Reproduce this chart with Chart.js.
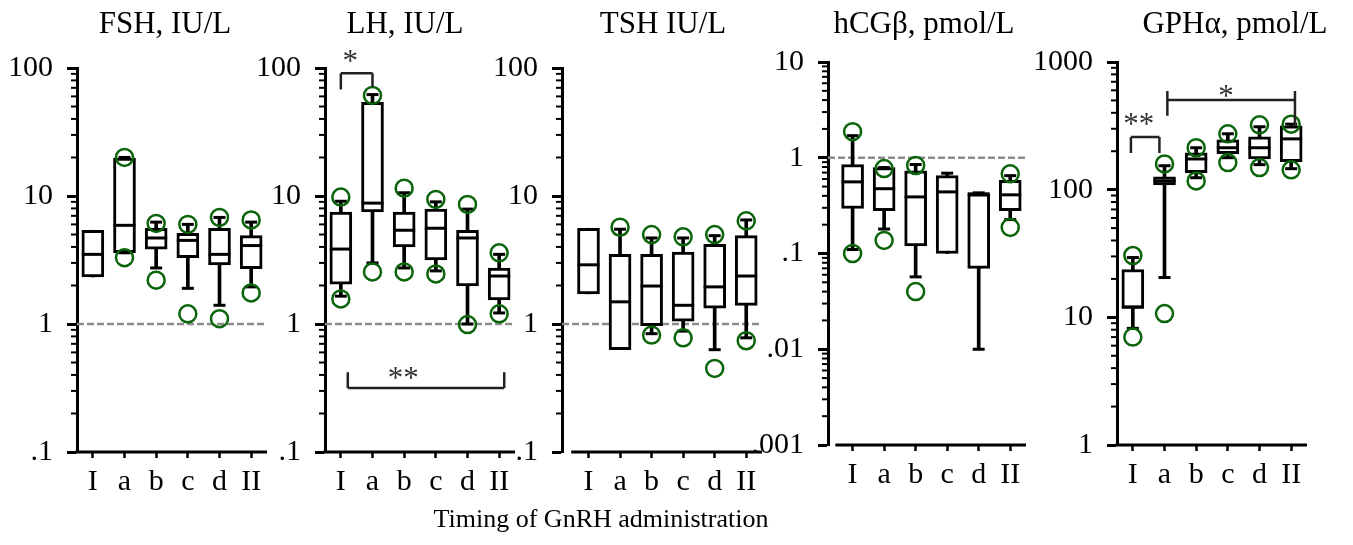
<!DOCTYPE html>
<html>
<head>
<meta charset="utf-8">
<script src="https://cdn.jsdelivr.net/npm/chart.js@4/dist/chart.umd.min.js"></script>
<style>
  body { margin: 0; background: #fff; width: 1353px; height: 545px; position: relative; overflow: hidden; font-family: "Liberation Serif", "Times New Roman", serif; }
  .panel { position: absolute; top: 0; }
  .ttl { position: absolute; white-space: nowrap; transform: translateX(-50%); color: #000; }
</style>
</head>
<body>
<script>
const categories = ['I', 'a', 'b', 'c', 'd', 'II'];
const decadeValues = [0.001, 0.01, 0.1, 1, 10, 100, 1000];
const decadeLabels = ['.001', '.01', '.1', '1', '10', '100', '1000'];
const titles = ['FSH, IU/L', 'LH, IU/L', 'TSH IU/L', 'hCGβ, pmol/L', 'GPHα, pmol/L'];
const xTitle = 'Timing of GnRH administration';
const yRanges = [[0.1, 100], [0.1, 100], [0.1, 100], [0.001, 10], [1, 1000]];
const refLines = [1, 1, 1, 1, null];

// FSH
const fshQ1 = [2.33, 3.6, 3.85, 3.3, 2.9, 2.7];
const fshMed = [3.5, 5.9, 4.7, 4.5, 3.5, 4.1];
const fshQ3 = [5.4, 19.8, 5.6, 5.1, 5.6, 4.9];
const fshLo = [null, 3.6, 2.74, 1.9, 1.4, 1.95];
const fshHi = [null, 20, 6.25, 6.0, 6.8, 6.25];
const fshOutHi = [null, 20, 6.1, 6.0, 6.8, 6.5];
const fshOutLo = [null, 3.3, 2.2, 1.2, 1.1, 1.75];

// LH
const lhQ1 = [2.05, 7.5, 4.0, 3.16, 1.98, 1.54];
const lhMed = [3.85, 8.8, 5.4, 5.6, 4.7, 2.37];
const lhQ3 = [7.5, 54, 7.5, 7.9, 5.4, 2.74];
const lhLo = [1.65, 3.0, 2.74, 2.6, 1.0, 1.22];
const lhHi = [9.1, 62, 10.6, 9.0, 7.9, 3.5];
const lhOutHi = [9.8, 61, 11.5, 9.4, 8.6, 3.6];
const lhOutLo = [1.57, 2.55, 2.55, 2.46, 0.99, 1.2];

// TSH
const tshQ1 = [1.72, 0.63, 0.97, 1.05, 1.33, 1.4];
const tshMed = [2.9, 1.49, 1.98, 1.4, 1.95, 2.37];
const tshQ3 = [5.6, 3.5, 3.5, 3.65, 4.2, 4.9];
const tshLo = [null, null, 0.84, 0.88, 0.63, 0.78];
const tshHi = [null, 5.5, 4.7, 4.7, 4.9, 6.5];
const tshOutHi = [null, 5.7, 5.0, 4.8, 5.0, 6.4];
const tshOutLo = [null, null, 0.82, 0.78, 0.45, 0.74];

// hCG beta
const hcgQ1 = [0.295, 0.28, 0.12, 0.1, 0.07, 0.28];
const hcgMed = [0.56, 0.475, 0.39, 0.44, 0.42, 0.41];
const hcgQ3 = [0.85, 0.79, 0.73, 0.65, 0.42, 0.58];
const hcgLo = [0.11, 0.18, 0.057, null, 0.01, 0.226];
const hcgHi = [1.7, 0.79, 0.85, 0.69, 0.43, 0.65];
const hcgOutHi = [1.87, 0.77, 0.83, null, null, 0.68];
const hcgOutLo = [0.1, 0.137, 0.04, null, null, 0.187];

// GPH alpha
const gphQ1 = [11.8, 109, 136, 191, 174, 166];
const gphMed = [12, 117, 174, 213, 213, 250];
const gphQ3 = [23.7, 126, 194, 246, 259, 316];
const gphLo = [8.2, 20.5, 124, 178, 157, 146];
const gphHi = [29.4, 154, 213, 274, 311, 326];
const gphOutHi = [30.5, 159, 213, 274, 322, 326];
const gphOutLo = [7.0, 10.7, 117, 163, 149, 143];

// significance brackets, in category units and axis values
const lhBrackets = [
  { x1: 0, x2: 1, y: 91, leftLeg: [91, 68], rightLeg: [91, 71], text: '*', tx: 0.3, ty: 124 },
  { x1: 0.22, x2: 5.16, y: 0.316, leftLeg: [0.316, 0.42], rightLeg: [0.316, 0.42], text: '**', tx: 1.97, ty: 0.414 }
];
const gphBrackets = [
  { x1: -0.06, x2: 0.84, y: 259, leftLeg: [259, 194], rightLeg: [259, 194], text: '**', tx: 0.19, ty: 356 },
  { x1: 1.09, x2: 5.12, y: 505, leftLeg: [592, 379], rightLeg: [592, 316], text: '*', tx: 2.94, ty: 592 }
];

const panels = [
  { q1: fshQ1, med: fshMed, q3: fshQ3, lo: fshLo, hi: fshHi, outHi: fshOutHi, outLo: fshOutLo, brackets: [] },
  { q1: lhQ1, med: lhMed, q3: lhQ3, lo: lhLo, hi: lhHi, outHi: lhOutHi, outLo: lhOutLo, brackets: lhBrackets },
  { q1: tshQ1, med: tshMed, q3: tshQ3, lo: tshLo, hi: tshHi, outHi: tshOutHi, outLo: tshOutLo, brackets: [] },
  { q1: hcgQ1, med: hcgMed, q3: hcgQ3, lo: hcgLo, hi: hcgHi, outHi: hcgOutHi, outLo: hcgOutLo, brackets: [] },
  { q1: gphQ1, med: gphMed, q3: gphQ3, lo: gphLo, hi: gphHi, outHi: gphOutHi, outLo: gphOutLo, brackets: gphBrackets }
];

// page layout (pixels)
const layout = [
  { axisX: 77, xMin: -0.5, top: 68, bottom: 452, titleX: 165 },
  { axisX: 325, xMin: -0.5, top: 68, bottom: 452, titleX: 405 },
  { axisX: 562, xMin: -0.84, top: 68, bottom: 452, titleX: 663 },
  { axisX: 828, xMin: -0.78, top: 62, bottom: 445, titleX: 924 },
  { axisX: 1117, xMin: -0.5, top: 62, bottom: 445, titleX: 1235 }
];
const step = 32, yW = 95, padR = 12;
const green = '#0a640a';

const isDecade = v => decadeValues.some(d => Math.abs(d - v) / d < 1e-6);
const decadeLabel = v => {
  const i = decadeValues.findIndex(d => Math.abs(d - v) / d < 1e-6);
  return i < 0 ? '' : decadeLabels[i];
};
const points = (arr) => arr.map((v, i) => v == null ? null : { x: i, y: v }).filter(p => p);

function extras(idx) {
  const p = panels[idx];
  return {
    id: 'extras' + idx,
    beforeDatasetsDraw(chart) {
      const ref = refLines[idx];
      if (ref == null) return;
      const { ctx, chartArea, scales: { y } } = chart;
      const py = y.getPixelForValue(ref);
      ctx.save();
      ctx.strokeStyle = '#8c8c8c';
      ctx.lineWidth = 2.5;
      ctx.setLineDash([7, 3]);
      ctx.beginPath();
      ctx.moveTo(chartArea.left, py);
      ctx.lineTo(chartArea.right, py);
      ctx.stroke();
      ctx.restore();
    },
    afterDraw(chart) {
      const { ctx, chartArea, scales: { x, y } } = chart;
      ctx.save();
      // x axis line
      ctx.strokeStyle = '#000';
      ctx.lineWidth = 3;
      ctx.beginPath();
      ctx.moveTo(x.getPixelForValue(-0.5) - 1.5, chartArea.bottom);
      ctx.lineTo(x.getPixelForValue(5.5), chartArea.bottom);
      ctx.stroke();
      // minor y ticks
      ctx.lineWidth = 2;
      y.ticks.forEach(t => {
        if (isDecade(t.value)) return;
        const py = y.getPixelForValue(t.value);
        ctx.beginPath();
        ctx.moveTo(chartArea.left - 6, py);
        ctx.lineTo(chartArea.left, py);
        ctx.stroke();
      });
      // brackets
      ctx.strokeStyle = '#222';
      ctx.lineWidth = 2.5;
      ctx.fillStyle = '#333';
      ctx.font = '31px "Liberation Serif"';
      ctx.textAlign = 'center';
      ctx.textBaseline = 'alphabetic';
      p.brackets.forEach(b => {
        const x1 = x.getPixelForValue(b.x1), x2 = x.getPixelForValue(b.x2);
        const py = y.getPixelForValue(b.y);
        ctx.beginPath();
        ctx.moveTo(x1, py); ctx.lineTo(x2, py);
        ctx.moveTo(x1, y.getPixelForValue(b.leftLeg[0])); ctx.lineTo(x1, y.getPixelForValue(b.leftLeg[1]));
        ctx.moveTo(x2, y.getPixelForValue(b.rightLeg[0])); ctx.lineTo(x2, y.getPixelForValue(b.rightLeg[1]));
        ctx.stroke();
        ctx.fillText(b.text, x.getPixelForValue(b.tx), y.getPixelForValue(b.ty) + 15);
      });
      ctx.restore();
    }
  };
}

layout.forEach((L, idx) => {
  const p = panels[idx];
  const [yMin, yMax] = yRanges[idx];
  const plotW = (5.5 - L.xMin) * step;
  const wrap = document.createElement('div');
  wrap.className = 'panel';
  wrap.style.left = (L.axisX - yW) + 'px';
  const cv = document.createElement('canvas');
  cv.width = yW + plotW + padR;
  cv.height = 545;
  wrap.appendChild(cv);
  document.body.appendChild(wrap);

  const ttl = document.createElement('div');
  ttl.className = 'ttl';
  ttl.textContent = titles[idx];
  ttl.style.cssText = `left:${L.titleX}px;top:7px;font-size:31px;line-height:31px;`;
  document.body.appendChild(ttl);

  const boxes = p.q1.map((v, i) => ({ x: i, y: [v, p.q3[i]] }));
  const whiskers = p.q1.map((v, i) => ({ x: i, y: [p.lo[i] ?? v, p.hi[i] ?? p.q3[i]] }));
  const caps = points(p.lo).concat(points(p.hi));
  const outliers = points(p.outLo).concat(points(p.outHi));

  new Chart(cv, {
    type: 'bar',
    data: {
      datasets: [
        { type: 'scatter', data: outliers, pointStyle: 'circle', pointRadius: 8.5, pointBorderWidth: 2.5,
          pointBorderColor: green, pointBackgroundColor: 'rgba(0,0,0,0)', clip: false, order: 0 },
        { type: 'scatter', data: points(p.med), pointStyle: 'line', pointRadius: 11, pointBorderWidth: 3,
          pointBorderColor: '#000', clip: false, order: 1 },
        { type: 'scatter', data: caps, pointStyle: 'line', pointRadius: 6, pointBorderWidth: 3,
          pointBorderColor: '#000', clip: false, order: 1 },
        { type: 'bar', data: boxes, backgroundColor: '#fff', borderColor: '#000', borderWidth: 3,
          borderSkipped: false, barThickness: 22, grouped: false, order: 2 },
        { type: 'bar', data: whiskers, backgroundColor: '#000', borderWidth: 0,
          barThickness: 3, grouped: false, order: 3 }
      ]
    },
    options: {
      responsive: false,
      animation: false,
      events: [],
      layout: { padding: { top: L.top, left: 0, right: padR, bottom: 0 } },
      plugins: { legend: { display: false }, tooltip: { enabled: false }, title: { display: false } },
      scales: {
        x: {
          type: 'linear',
          min: L.xMin,
          max: 5.5,
          offset: false,
          afterBuildTicks: s => { s.ticks = categories.map((c, i) => ({ value: i })); },
          afterFit: s => { s.height = 545 - L.bottom; s.paddingLeft = 0; s.paddingRight = 0; },
          grid: { offset: false, drawOnChartArea: false, tickLength: 6, tickWidth: 2.5, tickColor: '#000' },
          border: { display: false },
          ticks: {
            autoSkip: false, maxRotation: 0, padding: 6, color: '#000',
            font: { family: 'Liberation Serif', size: 30 },
            callback: v => categories[v] ?? ''
          }
        },
        y: {
          type: 'logarithmic',
          min: yMin,
          max: yMax,
          afterBuildTicks: s => {
            const t = [];
            const e0 = Math.round(Math.log10(yMin)), e1 = Math.round(Math.log10(yMax));
            for (let e = e0; e < e1; e++) {
              for (let k = 1; k < 10; k++) t.push({ value: Number((k * Math.pow(10, e)).toPrecision(6)) });
            }
            t.push({ value: yMax });
            s.ticks = t;
          },
          afterFit: s => { s.width = yW; s.paddingTop = 0; s.paddingBottom = 0; },
          grid: {
            drawOnChartArea: false, tickLength: 10, tickWidth: 3,
            tickColor: c => (c.tick && isDecade(c.tick.value)) ? '#000' : 'rgba(0,0,0,0)'
          },
          border: { display: true, color: '#000', width: 3 },
          ticks: {
            autoSkip: false, padding: 14, color: '#000',
            font: { family: 'Liberation Serif', size: 30 },
            callback: v => decadeLabel(v)
          }
        }
      }
    },
    plugins: [extras(idx)]
  });
});

const xt = document.createElement('div');
xt.className = 'ttl';
xt.textContent = xTitle;
xt.style.cssText = 'left:601px;top:506px;font-size:26px;line-height:26px;';
document.body.appendChild(xt);
</script>
</body>
</html>
